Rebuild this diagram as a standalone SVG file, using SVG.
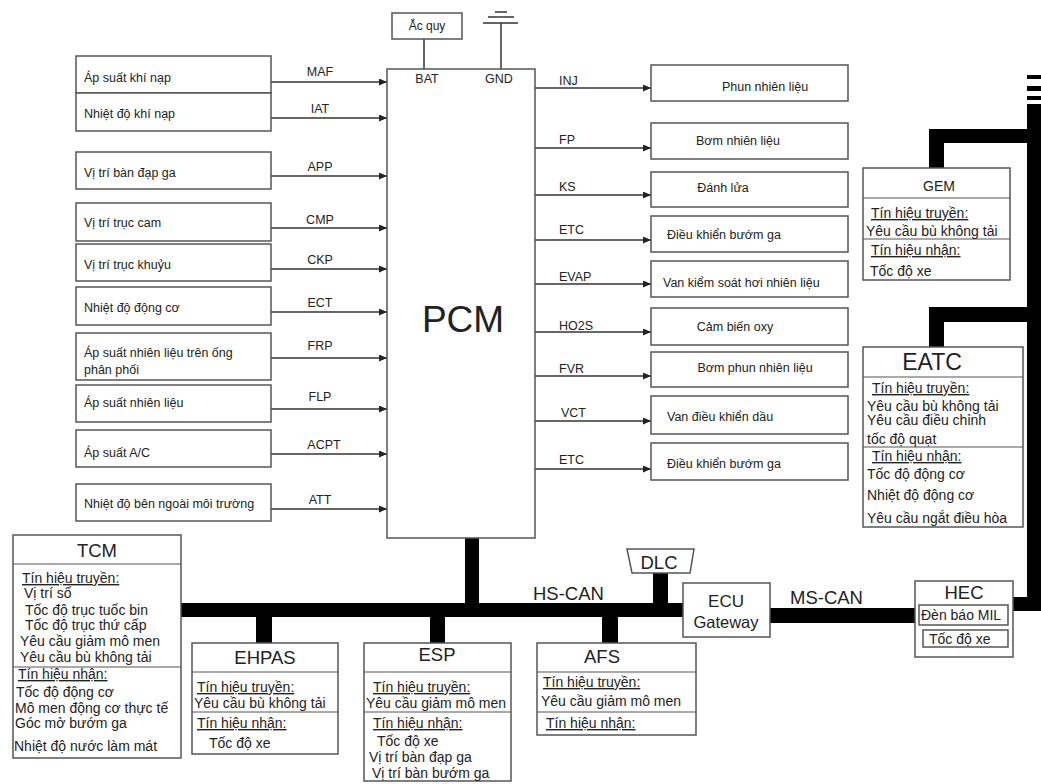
<svg xmlns="http://www.w3.org/2000/svg" width="1041" height="784" viewBox="0 0 1041 784">
<defs>
<marker id="arr" markerUnits="userSpaceOnUse" markerWidth="8" markerHeight="7" refX="8" refY="3.5" orient="auto"><path d="M0,0 L8,3.5 L0,7 z" fill="#222"/></marker>
<style>
.box{fill:#fff;stroke:#555;stroke-width:1.5}
.div{stroke:#555;stroke-width:1.2;fill:none}
.wire{stroke:#333;stroke-width:1.5;fill:none}
.arw{stroke:#333;stroke-width:1.5;fill:none;marker-end:url(#arr)}
.bus{fill:#000}
text{font-family:"Liberation Sans",Arial,sans-serif;fill:#222}
.s{font-size:12.5px}
.sig{font-size:12.5px}
.m{font-size:14px}
.u{text-decoration:underline}
.t{font-size:18.5px;text-anchor:middle}
.c{text-anchor:middle}
</style>
</defs>
<rect width="1041" height="784" fill="#fff"/>

<g id="connectors">
  <line class="wire" x1="424" y1="39" x2="424" y2="69"/>
  <line class="wire" x1="501" y1="23" x2="501" y2="69"/>
  <line class="wire" x1="495" y1="12" x2="507" y2="12"/>
  <line class="wire" x1="488" y1="17" x2="514" y2="17"/>
  <line class="wire" x1="483" y1="23" x2="518" y2="23"/>
  <line class="arw" x1="271" y1="82" x2="387" y2="82"/>
  <line class="arw" x1="271" y1="118" x2="387" y2="118"/>
  <line class="arw" x1="271" y1="176" x2="387" y2="176"/>
  <line class="arw" x1="271" y1="228" x2="387" y2="228"/>
  <line class="arw" x1="271" y1="269" x2="387" y2="269"/>
  <line class="arw" x1="271" y1="312" x2="387" y2="312"/>
  <line class="arw" x1="271" y1="358" x2="387" y2="358"/>
  <line class="arw" x1="271" y1="409" x2="387" y2="409"/>
  <line class="arw" x1="271" y1="454" x2="387" y2="454"/>
  <line class="arw" x1="271" y1="509" x2="387" y2="509"/>
  <line class="arw" x1="535" y1="88" x2="651" y2="88"/>
  <line class="arw" x1="535" y1="148" x2="651" y2="148"/>
  <line class="arw" x1="535" y1="195" x2="651" y2="195"/>
  <line class="arw" x1="535" y1="240" x2="651" y2="240"/>
  <line class="arw" x1="535" y1="284" x2="651" y2="284"/>
  <line class="arw" x1="535" y1="332" x2="651" y2="332"/>
  <line class="arw" x1="535" y1="376" x2="651" y2="376"/>
  <line class="arw" x1="535" y1="421" x2="651" y2="421"/>
  <line class="arw" x1="535" y1="469" x2="651" y2="469"/>
  <g font-size="12.5">
    <text class="sig c" x="320" y="76">MAF</text>
    <text class="sig c" x="320" y="113">IAT</text>
    <text class="sig c" x="320" y="171">APP</text>
    <text class="sig c" x="320" y="224">CMP</text>
    <text class="sig c" x="320" y="264">CKP</text>
    <text class="sig c" x="320" y="307">ECT</text>
    <text class="sig c" x="320" y="350">FRP</text>
    <text class="sig c" x="320" y="401">FLP</text>
    <text class="sig c" x="324" y="449">ACPT</text>
    <text class="sig c" x="320" y="504">ATT</text>
    <text class="sig" x="559" y="85">INJ</text>
    <text class="sig" x="559" y="144">FP</text>
    <text class="sig" x="559" y="191">KS</text>
    <text class="sig" x="559" y="234">ETC</text>
    <text class="sig" x="559" y="281">EVAP</text>
    <text class="sig" x="559" y="330">HO2S</text>
    <text class="sig" x="559" y="373">FVR</text>
    <text class="sig" x="561" y="417">VCT</text>
    <text class="sig" x="559" y="464">ETC</text>
  </g>
  <!-- CAN buses -->
  <rect class="bus" x="181" y="603" width="502" height="14"/>
  <rect class="bus" x="465" y="537" width="14" height="67"/>
  <rect class="bus" x="256" y="616" width="16" height="27"/>
  <rect class="bus" x="430" y="616" width="15" height="27"/>
  <rect class="bus" x="602" y="616" width="16" height="27"/>
  <rect class="bus" x="653" y="572" width="15" height="32"/>
  <rect class="bus" x="770" y="608" width="145" height="15"/>
  <rect class="bus" x="1027" y="75" width="14" height="4"/>
  <rect class="bus" x="1027" y="86" width="14" height="5"/>
  <rect class="bus" x="1027" y="96" width="14" height="4"/>
  <rect class="bus" x="1027" y="104" width="14" height="507"/>
  <rect class="bus" x="1012" y="597" width="29" height="14"/>
  <rect class="bus" x="929" y="129" width="112" height="14"/>
  <rect class="bus" x="929" y="129" width="15" height="40"/>
  <rect class="bus" x="929" y="307" width="112" height="15"/>
  <rect class="bus" x="929" y="307" width="15" height="41"/>
  <text x="533" y="600" font-size="18.5">HS-CAN</text>
  <text x="790" y="604" font-size="18.5">MS-CAN</text>
</g>

<g id="acquy"><rect class="box" x="392" y="13" width="70" height="26"/><text class="c" x="427" y="30" font-size="12">Ắc quy</text></g>

<g id="pcm">
  <rect class="box" x="387" y="69" width="148" height="469"/>
  <text class="c" x="427" y="83" font-size="12.5">BAT</text>
  <text class="c" x="499" y="83" font-size="12.5">GND</text>
  <text class="c" x="463" y="332" font-size="37">PCM</text>
</g>

<g id="in-maf"><rect class="box" x="76" y="56" width="195" height="37"/><text class="s" x="84" y="82">Áp suất khí nạp</text></g>
<g id="in-iat"><rect class="box" x="76" y="93" width="195" height="38"/><text class="s" x="84" y="118">Nhiệt độ khí nạp</text></g>
<g id="in-app"><rect class="box" x="76" y="152" width="195" height="37"/><text class="s" x="84" y="177">Vị trí bàn đạp ga</text></g>
<g id="in-cmp"><rect class="box" x="76" y="203" width="195" height="38"/><text class="s" x="84" y="227">Vị trí trục cam</text></g>
<g id="in-ckp"><rect class="box" x="76" y="244" width="195" height="37"/><text class="s" x="84" y="269">Vị trí trục khuỷu</text></g>
<g id="in-ect"><rect class="box" x="76" y="287" width="195" height="38"/><text class="s" x="84" y="312">Nhiệt độ động cơ</text></g>
<g id="in-frp"><rect class="box" x="76" y="333" width="195" height="47"/><text class="s" x="84" y="357">Áp suất nhiên liệu trên ống</text><text class="s" x="84" y="374">phân phối</text></g>
<g id="in-flp"><rect class="box" x="76" y="385" width="195" height="37"/><text class="s" x="84" y="407">Áp suất nhiên liệu</text></g>
<g id="in-acpt"><rect class="box" x="76" y="430" width="195" height="37"/><text class="s" x="84" y="457">Áp suất A/C</text></g>
<g id="in-att"><rect class="box" x="76" y="484" width="195" height="37"/><text class="s" x="84" y="508">Nhiệt độ bên ngoài môi trường</text></g>

<g id="out-inj"><rect class="box" x="651" y="65" width="197" height="36"/><text class="s c" x="765" y="91">Phun nhiên liệu</text></g>
<g id="out-fp"><rect class="box" x="651" y="123" width="197" height="36"/><text class="s c" x="738" y="145">Bơm nhiên liệu</text></g>
<g id="out-ks"><rect class="box" x="651" y="172" width="197" height="35"/><text class="s c" x="723" y="192">Đánh lửa</text></g>
<g id="out-etc"><rect class="box" x="651" y="216" width="197" height="36"/><text class="s" x="667" y="239">Điều khiển bướm ga</text></g>
<g id="out-evap"><rect class="box" x="651" y="261" width="197" height="36"/><text class="s" x="663" y="287">Van kiểm soát hơi nhiên liệu</text></g>
<g id="out-ho2s"><rect class="box" x="651" y="308" width="197" height="37"/><text class="s c" x="735" y="331">Cảm biến oxy</text></g>
<g id="out-fvr"><rect class="box" x="651" y="352" width="197" height="35"/><text class="s c" x="755" y="372">Bơm phun nhiên liệu</text></g>
<g id="out-vct"><rect class="box" x="651" y="396" width="197" height="38"/><text class="s" x="667" y="421">Van điều khiển dầu</text></g>
<g id="out-etc2"><rect class="box" x="651" y="443" width="197" height="37"/><text class="s" x="667" y="468">Điều khiển bướm ga</text></g>

<g id="gem">
  <rect class="box" x="863" y="168" width="147" height="112"/>
  <line class="div" x1="863" y1="198" x2="1010" y2="198"/>
  <line class="div" x1="863" y1="239" x2="1010" y2="239"/>
  <text class="c" x="939" y="191" font-size="14">GEM</text>
  <text class="m u" x="871" y="218">Tín hiệu truyền:</text>
  <text class="m" x="866" y="236">Yêu cầu bù không tải</text>
  <text class="m u" x="871" y="255">Tín hiệu nhận:</text>
  <text class="m" x="870" y="276">Tốc độ xe</text>
</g>

<g id="eatc">
  <rect class="box" x="863" y="347" width="160" height="180"/>
  <line class="div" x1="863" y1="377" x2="1023" y2="377"/>
  <line class="div" x1="863" y1="447" x2="1023" y2="447"/>
  <text class="c" x="932" y="370" font-size="23">EATC</text>
  <text class="m u" x="872" y="393">Tín hiệu truyền:</text>
  <text class="m" x="867" y="411">Yêu cầu bù không tải</text>
  <text class="m" x="867" y="425">Yêu cầu điều chỉnh</text>
  <text class="m" x="867" y="444">tốc độ quạt</text>
  <text class="m u" x="872" y="461">Tín hiệu nhận:</text>
  <text class="m" x="867" y="479">Tốc độ động cơ</text>
  <text class="m" x="867" y="500">Nhiệt độ động cơ</text>
  <text class="m" x="867" y="523">Yêu cầu ngắt điều hòa</text>
</g>

<g id="tcm">
  <rect class="box" x="13" y="535" width="168" height="223"/>
  <line class="div" x1="13" y1="564" x2="181" y2="564"/>
  <line class="div" x1="13" y1="667" x2="181" y2="667"/>
  <text class="t" x="97" y="557">TCM</text>
  <text class="m u" x="22" y="583">Tín hiệu truyền:</text>
  <text class="m" x="24" y="598">Vị trí số</text>
  <text class="m" x="25" y="615">Tốc độ trục tuốc bin</text>
  <text class="m" x="25" y="630">Tốc độ trục thứ cấp</text>
  <text class="m" x="20" y="646">Yêu cầu giảm mô men</text>
  <text class="m" x="20" y="662">Yêu cầu bù không tải</text>
  <text class="m u" x="18" y="679">Tín hiệu nhận:</text>
  <text class="m" x="16" y="697">Tốc độ động cơ</text>
  <text class="m" x="15" y="713">Mô men động cơ thực tế</text>
  <text class="m" x="15" y="728">Góc mở bướm ga</text>
  <text class="m" x="14" y="751">Nhiệt độ nước làm mát</text>
</g>

<g id="ehpas">
  <rect class="box" x="192" y="643" width="146" height="111"/>
  <line class="div" x1="192" y1="672" x2="338" y2="672"/>
  <line class="div" x1="192" y1="712" x2="338" y2="712"/>
  <text class="t" x="265" y="664">EHPAS</text>
  <text class="m u" x="197" y="692">Tín hiệu truyền:</text>
  <text class="m" x="194" y="708">Yêu cầu bù không tải</text>
  <text class="m u" x="197" y="728">Tín hiệu nhận:</text>
  <text class="m" x="209" y="748">Tốc độ xe</text>
</g>

<g id="esp">
  <rect class="box" x="364" y="643" width="147" height="138"/>
  <line class="div" x1="364" y1="672" x2="511" y2="672"/>
  <line class="div" x1="364" y1="712" x2="511" y2="712"/>
  <text class="t" x="437" y="661">ESP</text>
  <text class="m u" x="373" y="692">Tín hiệu truyền:</text>
  <text class="m" x="366" y="708">Yêu cầu giảm mô men</text>
  <text class="m u" x="373" y="728">Tín hiệu nhận:</text>
  <text class="m" x="377" y="746">Tốc độ xe</text>
  <text class="m" x="369" y="762">Vị trí bàn đạp ga</text>
  <text class="m" x="372" y="778">Vị trí bàn bướm ga</text>
</g>

<g id="afs">
  <rect class="box" x="537" y="643" width="159" height="92"/>
  <line class="div" x1="537" y1="672" x2="696" y2="672"/>
  <line class="div" x1="537" y1="712" x2="696" y2="712"/>
  <text class="t" x="602" y="663">AFS</text>
  <text class="m u" x="543" y="687">Tín hiệu truyền:</text>
  <text class="m" x="541" y="706">Yêu cầu giảm mô men</text>
  <text class="m u" x="546" y="728">Tín hiệu nhận:</text>
</g>

<g id="dlc">
  <path class="box" d="M627,549 L694,549 L690,573 L632,573 Z"/>
  <text class="t" x="659" y="569">DLC</text>
</g>

<g id="ecu-gateway">
  <rect class="box" x="683" y="583" width="87" height="54"/>
  <text class="c" x="726" y="607" font-size="17">ECU</text>
  <text class="c" x="726" y="628" font-size="16.5">Gateway</text>
</g>

<g id="hec">
  <rect class="box" x="915" y="581" width="98" height="76"/>
  <text class="t" x="964" y="599">HEC</text>
  <rect class="box" x="919" y="605" width="89" height="20"/>
  <text class="m" x="921" y="620">Đèn báo MIL</text>
  <rect class="box" x="923" y="630" width="85" height="17"/>
  <text class="m" x="929" y="644">Tốc độ xe</text>
</g>
</svg>
